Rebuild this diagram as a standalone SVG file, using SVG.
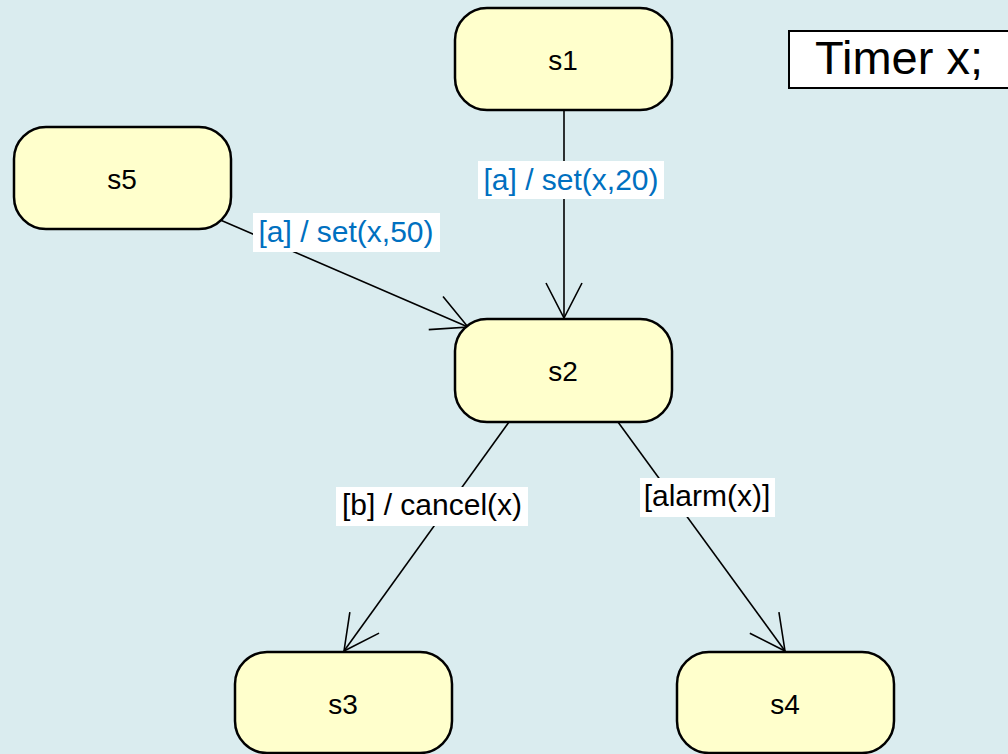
<svg xmlns="http://www.w3.org/2000/svg" width="1008" height="754" viewBox="0 0 1008 754">
<style>
.node rect{fill:#FFFFCC;stroke:#000;stroke-width:2.5}
.node text{font-family:"Liberation Sans",Arial,sans-serif;font-size:28px;fill:#000;text-anchor:middle}
.conn line{stroke:#000;stroke-width:1.6;fill:none}
.lbl rect{fill:#fff;stroke:none}
.lbl text{font-family:"Liberation Sans",Arial,sans-serif;font-size:30px;text-anchor:middle}
.blue{fill:#0070C0}
.black{fill:#000}
</style>
<defs>
<marker id="arr" markerUnits="userSpaceOnUse" markerWidth="44" markerHeight="44" viewBox="-40 -22 44 44" refX="0" refY="0" orient="auto" overflow="visible">
<path d="M -35 -18 L 0 0 L -35 18" fill="none" stroke="#000" stroke-width="1.6"/>
</marker>
</defs>
<rect x="0" y="0" width="1008" height="754" fill="#DAECEF"/>
<g id="connectors" class="conn">
<line x1="564" y1="110" x2="564" y2="318" marker-end="url(#arr)"/>
<line x1="218" y1="219" x2="468" y2="327" marker-end="url(#arr)"/>
<line x1="509" y1="422" x2="344" y2="651" marker-end="url(#arr)"/>
<line x1="618" y1="422" x2="785" y2="651" marker-end="url(#arr)"/>
</g>
<g id="labels" class="lbl">
<rect x="478" y="161" width="186" height="38"/>
<text x="571" y="190" class="blue">[a] / set(x,20)</text>
<rect x="253" y="213" width="187" height="39"/>
<text x="346" y="242" class="blue">[a] / set(x,50)</text>
<rect x="336" y="487" width="192" height="39"/>
<text x="432" y="515" class="black">[b] / cancel(x)</text>
<rect x="640" y="478" width="135" height="39"/>
<text x="707" y="506" class="black">[alarm(x)]</text>
</g>
<g id="s1" class="node"><rect x="455" y="8" width="217" height="102" rx="32"/><text x="563" y="70">s1</text></g>
<g id="s5" class="node"><rect x="14" y="127" width="217" height="102" rx="32"/><text x="122" y="189">s5</text></g>
<g id="s2" class="node"><rect x="455" y="319" width="217" height="103" rx="32"/><text x="563" y="381">s2</text></g>
<g id="s3" class="node"><rect x="235" y="652" width="217" height="101" rx="32"/><text x="343" y="714">s3</text></g>
<g id="s4" class="node"><rect x="677" y="652" width="217" height="101" rx="32"/><text x="785" y="714">s4</text></g>
<g id="timer">
<rect x="789" y="31" width="230" height="57" fill="#fff" stroke="#000" stroke-width="2"/>
<text x="815" y="74" font-family="'Liberation Sans',Arial,sans-serif" font-size="47" fill="#000">Timer x;</text>
</g>
</svg>
